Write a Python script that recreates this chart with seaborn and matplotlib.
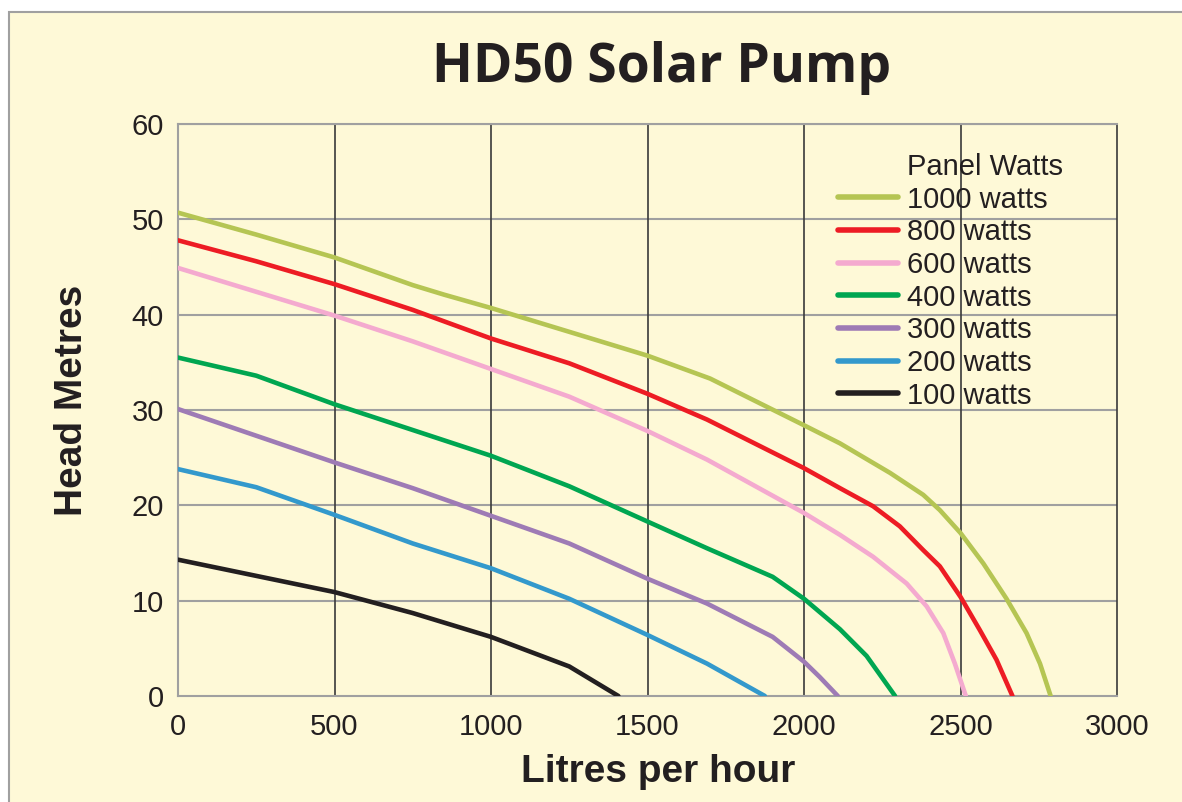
import matplotlib
matplotlib.use("Agg")
import matplotlib.pyplot as plt
from matplotlib.lines import Line2D
from matplotlib.patches import Rectangle
import seaborn as sns
import pandas as pd

# Flow (litres per hour) and head (metres)
labels = ["1000 watts", "800 watts", "600 watts", "400 watts", "300 watts", "200 watts", "100 watts"]
colors = ["#b5c553", "#ed1c24", "#f4aacf", "#00a651", "#9e7bb5", "#3399cc", "#231f20"]

flow_1000 = [0, 250, 500, 750, 850, 1000, 1250, 1500, 1700, 2000, 2115, 2275, 2381, 2434, 2500, 2573, 2647, 2711, 2754, 2788]
head_1000 = [50.7, 48.4, 46.0, 43.1, 42.1, 40.7, 38.2, 35.7, 33.3, 28.4, 26.5, 23.4, 21.1, 19.5, 17.1, 13.9, 10.2, 6.6, 3.4, 0]
flow_800 = [0, 250, 500, 750, 1000, 1250, 1500, 1690, 2000, 2115, 2221, 2306, 2381, 2434, 2500, 2562, 2615, 2666]
head_800 = [47.8, 45.6, 43.2, 40.5, 37.5, 34.9, 31.7, 29.0, 23.9, 21.8, 19.9, 17.8, 15.3, 13.6, 10.4, 6.9, 3.8, 0]
flow_600 = [0, 250, 500, 750, 1000, 1250, 1500, 1690, 2000, 2115, 2221, 2328, 2392, 2445, 2482, 2517]
head_600 = [44.9, 42.4, 39.9, 37.2, 34.3, 31.4, 27.8, 24.8, 19.2, 16.9, 14.6, 11.8, 9.4, 6.6, 3.4, 0]
flow_400 = [0, 250, 500, 750, 1000, 1250, 1500, 1690, 1900, 2000, 2115, 2200, 2291]
head_400 = [35.5, 33.6, 30.6, 27.9, 25.2, 22.0, 18.3, 15.5, 12.5, 10.2, 7.0, 4.2, 0]
flow_300 = [0, 250, 500, 750, 1000, 1250, 1500, 1690, 1900, 2000, 2050, 2108]
head_300 = [30.1, 27.3, 24.5, 21.8, 18.9, 16.0, 12.3, 9.7, 6.2, 3.6, 2.0, 0]
flow_200 = [0, 250, 500, 750, 1000, 1250, 1500, 1690, 1875]
head_200 = [23.8, 21.9, 19.0, 16.0, 13.4, 10.2, 6.4, 3.4, 0]
flow_100 = [0, 250, 500, 750, 1000, 1250, 1407]
head_100 = [14.3, 12.6, 10.9, 8.7, 6.2, 3.1, 0]

flows = [flow_1000, flow_800, flow_600, flow_400, flow_300, flow_200, flow_100]
heads = [head_1000, head_800, head_600, head_400, head_300, head_200, head_100]

x_ticks = [0, 500, 1000, 1500, 2000, 2500, 3000]
y_ticks = [0, 10, 20, 30, 40, 50, 60]

bg = "#fef9d7"
sns.set_style("white")
plt.rcParams["font.family"] = ["Liberation Sans", "DejaVu Sans"]

fig = plt.figure(figsize=(11.82, 8.02), dpi=100, facecolor="white")
# yellow panel with grey border on top and left
panel = Rectangle((9 / 1182, -0.01), 1.02, (802 - 12) / 802 + 0.01,
                  transform=fig.transFigure, facecolor=bg,
                  edgecolor="#a0a0a0", linewidth=1.5, zorder=-5)
fig.patches.append(panel)

ax = fig.add_axes([178 / 1182, 1 - 696 / 802, 939 / 1182, 572 / 802])
ax.set_zorder(2)
ax.set_facecolor(bg)

for lab, col, fx, hy in zip(labels, colors, flows, heads):
    df = pd.DataFrame({"flow": fx, "head": hy})
    sns.lineplot(data=df, x="flow", y="head", ax=ax, color=col, linewidth=3.3,
                 sort=False, estimator=None, label=lab, zorder=3,
                 solid_capstyle="round", solid_joinstyle="round")

ax.set_xlim(0, 3000)
ax.set_ylim(0, 60)
ax.set_xticks(x_ticks)
ax.set_yticks(y_ticks)
ax.tick_params(axis="both", labelsize=21, colors="#a0a0a0", labelcolor="#231f20",
               length=3, width=1.2)
ax.tick_params(axis="x", pad=9)
ax.tick_params(axis="y", pad=7)

for y in y_ticks[1:]:
    ax.axhline(y, color="#a0a0a0", lw=1.5, zorder=1)
for x in x_ticks[1:-1]:
    ax.axvline(x, color="#3a3a3a", lw=1.2, zorder=1)

for side in ["left", "top", "bottom"]:
    ax.spines[side].set_color("#a0a0a0")
    ax.spines[side].set_linewidth(1.5)
ax.spines["right"].set_color("#3a3a3a")
ax.spines["right"].set_linewidth(1.2)

ax.set_xlabel("Litres per hour", fontsize=28, fontweight="bold", color="#231f20")
ax.set_ylabel("Head Metres", fontsize=28, fontweight="bold", color="#231f20")
ax.xaxis.set_label_coords((658 - 178) / 939, -(772 - 696) / 572)
ax.yaxis.set_label_coords(-(178 - 72) / 939, (696 - 400) / 572)
ax.xaxis.label.set_va("center")
ax.yaxis.label.set_va("center")

fig.text(662 / 1182, 1 - 68 / 802, "HD50 Solar Pump", fontsize=38.5,
         fontweight="bold", family=["Open Sans", "DejaVu Sans"],
         ha="center", va="center", color="#231f20")

# legend, title placed as first row so it lines up with the labels
handles, leg_labels = ax.get_legend_handles_labels()
blank = Line2D([], [], color="none")
leg = ax.legend([blank] + handles, ["Panel Watts"] + leg_labels,
                loc="upper left", bbox_to_anchor=((838 - 178) / 939, (696 - 153) / 572),
                frameon=False, fontsize=21, handlelength=2.05, handletextpad=0.3,
                labelspacing=0.16, borderpad=0, borderaxespad=0)
for t in leg.get_texts():
    t.set_color("#231f20")
for h in leg.legend_handles:
    h.set_linewidth(4)

fig.savefig("out.png", dpi=100, facecolor="white")
